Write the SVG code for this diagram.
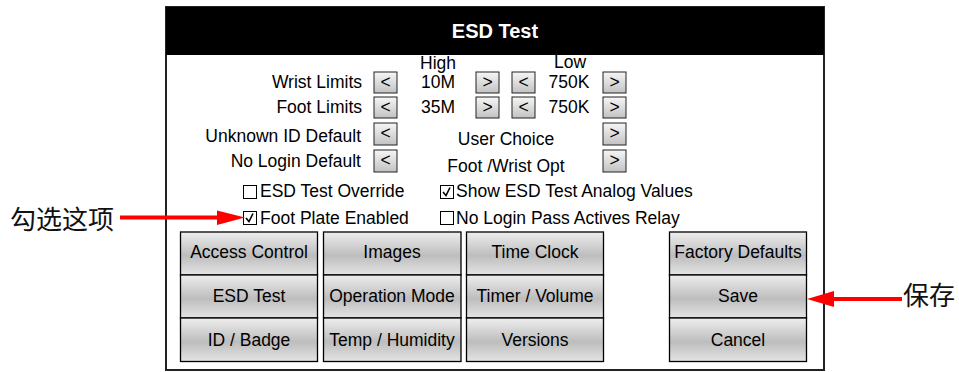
<svg xmlns="http://www.w3.org/2000/svg" width="959" height="372" viewBox="0 0 959 372">
<style>
  text { font-family: "Liberation Sans", Arial, sans-serif; font-size: 17.5px; fill: #000; }
  .title { font-weight: bold; font-size: 20px; fill: #fff; text-anchor: middle; }
  .r { text-anchor: end; }
  .c { text-anchor: middle; }
  .cjk { font-family: "Noto Sans CJK SC", sans-serif; font-size: 26px; fill: #111; }
  .btn { fill: url(#gBig); stroke: #000; stroke-width: 1.3; }
  .sb { fill: url(#gSmall); stroke: #222; stroke-width: 1; }
  .cb { fill: #fff; stroke: #000; stroke-width: 1; }
  .ck { fill: none; stroke: #000; stroke-width: 1.6; }
  .arr { stroke: #ff0000; stroke-width: 4; fill: none; }
  .ah { fill: #ff0000; }
</style>
<defs>
  <linearGradient id="gBig" x1="0" y1="0" x2="0" y2="1">
    <stop offset="0" stop-color="#eeeeee"/>
    <stop offset="0.55" stop-color="#bdbdbd"/>
    <stop offset="1" stop-color="#e4e4e4"/>
  </linearGradient>
  <linearGradient id="gSmall" x1="0" y1="0" x2="0" y2="1">
    <stop offset="0" stop-color="#f6f6f6"/>
    <stop offset="1" stop-color="#c2c2c2"/>
  </linearGradient>
</defs>
<rect x="0" y="0" width="959" height="372" fill="#fff"/>

<g id="frame">
  <rect x="166" y="7" width="658" height="363" fill="#fff" stroke="#222" stroke-width="2"/>
  <rect x="166" y="7" width="658" height="48" fill="#000"/>
  <text class="title" x="495" y="38">ESD Test</text>
</g>

<g id="limits">
  <text class="c" x="438" y="69">High</text>
  <text class="c" x="570" y="68">Low</text>
  <text class="r" x="362" y="88">Wrist Limits</text>
  <text class="r" x="362" y="113">Foot Limits</text>
  <rect class="sb" x="374" y="72" width="23" height="21"/>
  <text class="c" x="385.5" y="88">&lt;</text>
  <text class="c" x="438" y="88">10M</text>
  <rect class="sb" x="476" y="72" width="23" height="21"/>
  <text class="c" x="487.5" y="88">&gt;</text>
  <rect class="sb" x="512" y="72" width="23" height="21"/>
  <text class="c" x="523.5" y="88">&lt;</text>
  <text class="c" x="569" y="88">750K</text>
  <rect class="sb" x="603" y="72" width="23" height="21"/>
  <text class="c" x="614.5" y="88">&gt;</text>

  <rect class="sb" x="374" y="97" width="23" height="21"/>
  <text class="c" x="385.5" y="113">&lt;</text>
  <text class="c" x="438" y="113">35M</text>
  <rect class="sb" x="476" y="97" width="23" height="21"/>
  <text class="c" x="487.5" y="113">&gt;</text>
  <rect class="sb" x="512" y="97" width="23" height="21"/>
  <text class="c" x="523.5" y="113">&lt;</text>
  <text class="c" x="569" y="113">750K</text>
  <rect class="sb" x="603" y="97" width="23" height="21"/>
  <text class="c" x="614.5" y="113">&gt;</text>
</g>

<g id="defaults">
  <text class="r" x="361" y="142">Unknown ID Default</text>
  <rect class="sb" x="374" y="123" width="23" height="22"/>
  <text class="c" x="385.5" y="139">&lt;</text>
  <text class="r" x="361" y="167">No Login Default</text>
  <rect class="sb" x="374" y="150" width="23" height="22"/>
  <text class="c" x="385.5" y="166">&lt;</text>
  <text class="c" x="506" y="145">User Choice</text>
  <rect class="sb" x="603" y="123" width="23" height="22"/>
  <text class="c" x="614.5" y="139">&gt;</text>
  <text class="c" x="506" y="172">Foot /Wrist Opt</text>
  <rect class="sb" x="603" y="150" width="23" height="22"/>
  <text class="c" x="614.5" y="166">&gt;</text>
</g>

<g id="checkboxes">
  <rect class="cb" x="243.5" y="185.5" width="13" height="13"/>
  <text x="260" y="197">ESD Test Override</text>
  <rect class="cb" x="243.5" y="211.5" width="13" height="13"/>
  <polyline class="ck" points="246,218 249,221.5 253,213.5"/>
  <text x="260" y="224">Foot Plate Enabled</text>
  <rect class="cb" x="440.5" y="185.5" width="13" height="13"/>
  <polyline class="ck" points="443,192 446,195.5 450,187.5"/>
  <text x="456" y="197">Show ESD Test Analog Values</text>
  <rect class="cb" x="440.5" y="211.5" width="13" height="13"/>
  <text x="456" y="224">No Login Pass Actives Relay</text>
</g>

<g id="buttons">
  <g id="btn-access"><rect class="btn" x="180.5" y="232" width="137" height="43"/><text class="c" x="249" y="258">Access Control</text></g>
  <g id="btn-esd"><rect class="btn" x="180.5" y="275" width="137" height="43"/><text class="c" x="249" y="302">ESD Test</text></g>
  <g id="btn-id"><rect class="btn" x="180.5" y="318" width="137" height="43.5"/><text class="c" x="249" y="346">ID / Badge</text></g>

  <g id="btn-images"><rect class="btn" x="323.5" y="232" width="137.5" height="43"/><text class="c" x="392" y="258">Images</text></g>
  <g id="btn-opmode"><rect class="btn" x="323.5" y="275" width="137.5" height="43"/><text class="c" x="392" y="302">Operation Mode</text></g>
  <g id="btn-temp"><rect class="btn" x="323.5" y="318" width="137.5" height="43.5"/><text class="c" x="392" y="346">Temp / Humidity</text></g>

  <g id="btn-time"><rect class="btn" x="466.5" y="232" width="137" height="43"/><text class="c" x="535" y="258">Time Clock</text></g>
  <g id="btn-timer"><rect class="btn" x="466.5" y="275" width="137" height="43"/><text class="c" x="535" y="302">Timer / Volume</text></g>
  <g id="btn-versions"><rect class="btn" x="466.5" y="318" width="137" height="43.5"/><text class="c" x="535" y="346">Versions</text></g>

  <g id="btn-factory"><rect class="btn" x="669.5" y="232" width="137" height="43"/><text class="c" x="738" y="258">Factory Defaults</text></g>
  <g id="btn-save"><rect class="btn" x="669.5" y="275" width="137" height="43"/><text class="c" x="738" y="302">Save</text></g>
  <g id="btn-cancel"><rect class="btn" x="669.5" y="318" width="137" height="43.5"/><text class="c" x="738" y="346">Cancel</text></g>
</g>

<g id="annotations">
  <text class="cjk" x="10" y="229">勾选这项</text>
  <text class="cjk" x="903" y="305">保存</text>
</g>

<g id="connectors">
  <line class="arr" x1="120" y1="217.5" x2="219" y2="217.5"/>
  <polygon class="ah" points="217,210.5 245,217.5 217,225"/>
  <line class="arr" x1="902" y1="299" x2="831" y2="299"/>
  <polygon class="ah" points="834,291 807,299 834,307"/>
</g>
</svg>
